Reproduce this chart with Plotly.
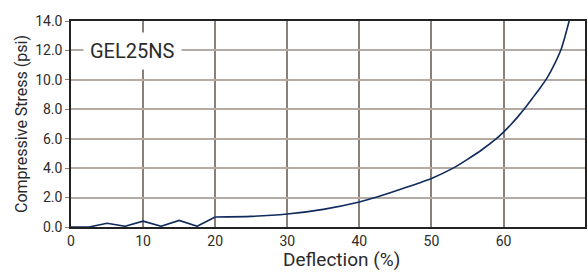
import plotly.graph_objects as go

# Deflection (%) and compressive stress (psi)
deflection = [0, 2.5, 5, 7.5, 10, 12.5, 15, 17.5, 20,
              25, 30, 35, 40, 42.2, 45, 50, 53, 55, 57, 59, 60, 61, 62, 63, 64, 65,
              66, 67, 68, 68.5, 69.1]
stress = [0, 0, 0.25, 0.05, 0.4, 0.05, 0.45, 0.05, 0.68,
          0.72, 0.88, 1.2, 1.7, 2.0, 2.45, 3.3, 4.0, 4.6, 5.25, 6.0, 6.45, 6.95, 7.5, 8.1,
          8.75, 9.4, 10.1, 11.0, 12.1, 12.9, 14.0]

x_tick_vals = [0, 10, 20, 30, 40, 50, 60, 71.3]
x_tick_text = ["0", "10", "20", "30", "40", "50", "60", "70"]
y_tick_vals = [0, 2, 4, 6, 8, 10, 12, 14]
y_tick_text = ["0.0", "2.0", "4.0", "6.0", "8.0", "10.0", "12.0", "14.0"]

series_name = "GEL25NS"
x_title = "Deflection (%)"
y_title = "Compressive Stress (psi)"
line_color = "#0f2a5c"
split = 8  # zig-zag part is straight segments, the rest is a smooth curve

fig = go.Figure()
fig.add_trace(go.Scatter(x=deflection[:split + 1], y=stress[:split + 1], mode="lines",
                         line=dict(color=line_color, width=1.6, shape="linear"),
                         showlegend=False, cliponaxis=True, hoverinfo="skip"))
fig.add_trace(go.Scatter(x=deflection[split:], y=stress[split:], mode="lines",
                         line=dict(color=line_color, width=1.6, shape="spline", smoothing=0.6),
                         showlegend=False, cliponaxis=True, hoverinfo="skip"))

font_family = "Roboto, DejaVu Sans, sans-serif"
fig.update_layout(
    width=588, height=276,
    margin=dict(l=71, r=3, t=21, b=49),
    paper_bgcolor="white", plot_bgcolor="white",
    font=dict(family=font_family, color="#2b2b2b"),
    xaxis=dict(range=[0, 71.3], tickvals=x_tick_vals, ticktext=x_tick_text,
               automargin=False,
               showgrid=True, gridcolor="#8a8078", gridwidth=1.5,
               zeroline=False, showline=True, linecolor="#222", linewidth=1.5,
               mirror=True, ticks="", tickfont=dict(size=14, color="#2b2b2b")),
    yaxis=dict(range=[0, 14], tickvals=y_tick_vals, ticktext=y_tick_text,
               automargin=False,
               showgrid=True, gridcolor="#b4aca4", gridwidth=1.6,
               zeroline=False, showline=True, linecolor="#222", linewidth=1.5,
               mirror=True, ticks="outside", ticklen=4, tickcolor="#8a8078",
               tickfont=dict(size=14, color="#2b2b2b"),
               title=dict(text=y_title, font=dict(size=16, color="#2b2b2b"),
                          standoff=4)),
    annotations=[
        dict(x=0.023, y=0.854, xref="paper", yref="paper",
             text=series_name, showarrow=False,
             font=dict(size=20, color="#2b2b2b", family=font_family),
             bgcolor="white", borderpad=6, xanchor="left", yanchor="middle"),
        dict(x=0.526, y=-0.09, xref="paper", yref="paper",
             text=x_title, showarrow=False,
             font=dict(size=19, color="#2b2b2b", family=font_family),
             xanchor="center", yanchor="top"),
    ],
)

fig.write_html("out.html", post_script="document.body.style.margin='0';",
               config={"displayModeBar": False})
